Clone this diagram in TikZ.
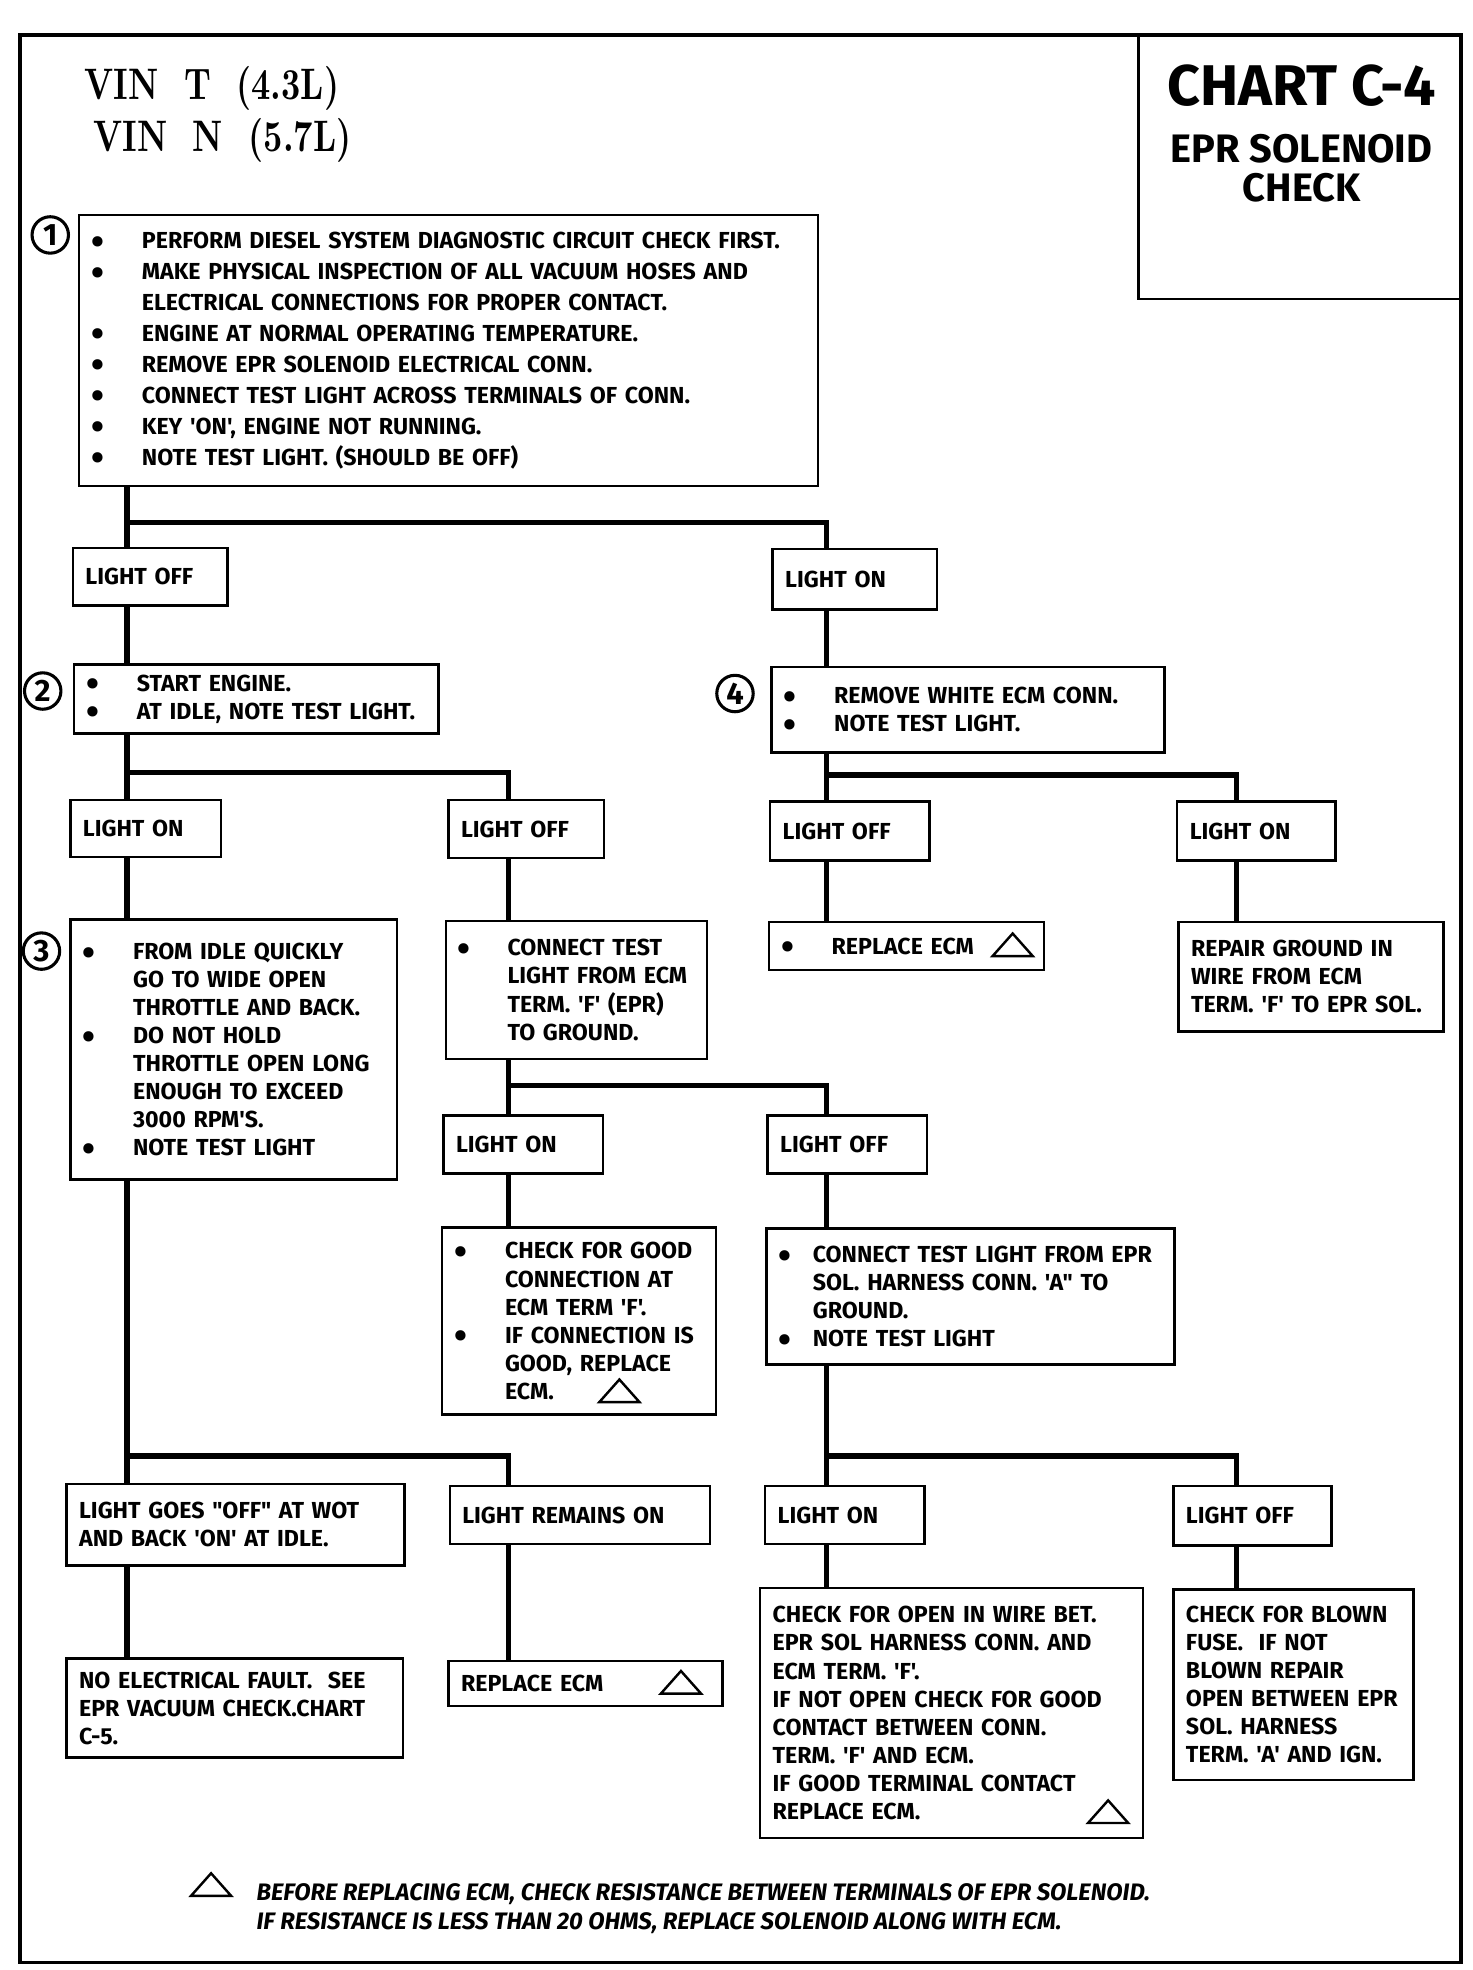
\documentclass[tikz,border=0pt]{standalone}
\usepackage{fontspec}
\newfontfamily\chartfont{Fira Sans}
\newfontfamily\vinfont[FakeStretch=0.76]{lmroman10-bold.otf}
\newcommand{\bul}[1][0.8cm]{\makebox[#1][l]{\raisebox{-0.45ex}[0pt][0pt]{\scalebox{1.6}{\textbullet}}}}
\newcommand{\ind}[1][0.8cm]{\hspace*{#1}}
\tikzset{
  box/.style={draw, line width=1.1pt, anchor=north west, inner xsep=0.2cm, inner ysep=0pt, align=left,
    font=\chartfont\bfseries\fontsize{10.5}{12.7}\selectfont},
  link/.style={line width=2.4pt},
  num/.style={circle, draw, line width=1.4pt, minimum size=0.58cm, inner sep=0pt,
    font=\chartfont\bfseries\fontsize{14}{14}\selectfont},
  warn/.pic={\draw[line width=1.1pt, line join=miter] (-16,9) -- (16,9) -- (0,-9) -- cycle;}
}
\begin{document}
\begin{tikzpicture}[x=0.02cm, y=-0.02cm]
\useasboundingbox (0,0) rectangle (1172,1568);
% frame and title
\draw[line width=1.7pt] (16,28) rectangle (1163,1562);
\draw[line width=1.1pt] (906,28) -- (906,238) -- (1163,238);
\node[font=\chartfont\bfseries\fontsize{26}{30}\selectfont] (chart) at (1036,68) {CHART C-4};
\node[align=center, font=\chartfont\bfseries\fontsize{18}{18}\selectfont] (subj) at (1036,134) {EPR SOLENOID\\CHECK};
\node[anchor=west, font=\vinfont\fontsize{20}{24}\selectfont] (vint) at (61,70) {VIN\ \ T\ \ (4.3L)};
\node[anchor=west, font=\vinfont\fontsize{20}{24}\selectfont] (vinn) at (68,112) {VIN\ \ N\ \ (5.7L)};

% step boxes
\node[box, minimum width=11.76cm, minimum height=4.32cm, text width=11.36cm,
  font=\chartfont\bfseries\fontsize{10.5}{14}\selectfont] (b1) at (62,170) {%
  \bul PERFORM DIESEL SYSTEM DIAGNOSTIC CIRCUIT CHECK FIRST.\\
  \bul MAKE PHYSICAL INSPECTION OF ALL VACUUM HOSES AND\\
  \ind ELECTRICAL CONNECTIONS FOR PROPER CONTACT.\\
  \bul ENGINE AT NORMAL OPERATING TEMPERATURE.\\
  \bul REMOVE EPR SOLENOID ELECTRICAL CONN.\\
  \bul CONNECT TEST LIGHT ACROSS TERMINALS OF CONN.\\
  \bul KEY 'ON', ENGINE NOT RUNNING.\\
  \bul NOTE TEST LIGHT. (SHOULD BE OFF)};
\node[num] (n1) at (40,187) {1};

\node[box, minimum width=2.46cm, minimum height=0.92cm, text width=2.06cm] (loff1) at (57,435) {LIGHT OFF};
\node[box, minimum width=2.62cm, minimum height=0.96cm, text width=2.22cm] (lon1) at (614,436) {LIGHT ON};

\node[box, minimum width=5.8cm, minimum height=1.1cm, text width=5.4cm] (b2) at (58,528) {%
  \bul START ENGINE.\\
  \bul AT IDLE, NOTE TEST LIGHT.};
\node[num] (n2) at (34,550) {2};
\node[box, minimum width=6.26cm, minimum height=1.36cm, text width=5.86cm] (b4) at (613,530) {%
  \bul REMOVE WHITE ECM CONN.\\
  \bul NOTE TEST LIGHT.};
\node[num] (n4) at (585,552) {4};

\node[box, minimum width=2.4cm, minimum height=0.9cm, text width=2cm] (lon2) at (55,636) {LIGHT ON};
\node[box, minimum width=2.48cm, minimum height=0.92cm, text width=2.08cm] (loff2) at (356,636) {LIGHT OFF};
\node[box, minimum width=2.54cm, minimum height=0.94cm, text width=2.14cm] (loff3) at (612,637) {LIGHT OFF};
\node[box, minimum width=2.52cm, minimum height=0.94cm, text width=2.12cm] (lon3) at (936,637) {LIGHT ON};

\node[box, minimum width=5.2cm, minimum height=4.14cm, text width=4.8cm] (b3) at (55,731) {%
  \bul FROM IDLE QUICKLY\\
  \ind GO TO WIDE OPEN\\
  \ind THROTTLE AND BACK.\\
  \bul DO NOT HOLD\\
  \ind THROTTLE OPEN LONG\\
  \ind ENOUGH TO EXCEED\\
  \ind 3000 RPM'S.\\
  \bul NOTE TEST LIGHT};
\node[num] (n3) at (33,757) {3};
\node[box, minimum width=4.16cm, minimum height=2.2cm, text width=3.8cm, inner xsep=0.18cm] (b5) at (354,732) {%
  \bul CONNECT TEST\\
  \ind LIGHT FROM ECM\\
  \ind TERM. 'F' (EPR)\\
  \ind TO GROUND.};
\node[box, minimum width=4.38cm, minimum height=0.76cm, text width=3.98cm] (b6) at (611,733) {%
  \bul REPLACE ECM};
\pic at (806,752) {warn};
\node[box, minimum width=4.22cm, minimum height=1.74cm, text width=3.82cm] (b7) at (937,733) {%
  REPAIR GROUND IN\\
  WIRE FROM ECM\\
  TERM. 'F' TO EPR SOL.};

\node[box, minimum width=2.54cm, minimum height=0.92cm, text width=2.14cm] (lon4) at (352,887) {LIGHT ON};
\node[box, minimum width=2.54cm, minimum height=0.92cm, text width=2.14cm] (loff4) at (610,887) {LIGHT OFF};
\node[box, minimum width=4.36cm, minimum height=2.98cm, text width=3.96cm] (b8) at (351,976) {%
  \bul CHECK FOR GOOD\\
  \ind CONNECTION AT\\
  \ind ECM TERM 'F'.\\
  \bul IF CONNECTION IS\\
  \ind GOOD, REPLACE\\
  \ind ECM.};
\pic at (493,1107) {warn};
\node[box, minimum width=6.5cm, minimum height=2.16cm, text width=6.1cm] (b9) at (609,977) {%
  \bul[0.54cm]CONNECT TEST LIGHT FROM EPR\\
  \ind[0.54cm]SOL. HARNESS CONN. 'A" TO\\
  \ind[0.54cm]GROUND.\\
  \bul[0.54cm]NOTE TEST LIGHT};

\node[box, minimum width=5.38cm, minimum height=1.3cm, text width=4.98cm] (lgoes) at (52,1180) {%
  LIGHT GOES "OFF" AT WOT\\
  AND BACK 'ON' AT IDLE.};
\node[box, minimum width=4.14cm, minimum height=0.92cm, text width=3.74cm] (lrem) at (357,1182) {LIGHT REMAINS ON};
\node[box, minimum width=2.54cm, minimum height=0.92cm, text width=2.14cm] (lon5) at (608,1182) {LIGHT ON};
\node[box, minimum width=2.52cm, minimum height=0.94cm, text width=2.12cm] (loff5) at (933,1182) {LIGHT OFF};

\node[box, minimum width=5.36cm, minimum height=1.58cm, text width=4.96cm] (b10) at (52,1319) {%
  NO ELECTRICAL FAULT.\ \ SEE\\
  EPR VACUUM CHECK.CHART\\
  C-5.};
\node[box, minimum width=4.36cm, minimum height=0.72cm, text width=3.96cm] (b11) at (356,1321) {REPLACE ECM};
\pic at (542,1339) {warn};
\node[box, minimum width=6.1cm, minimum height=3.98cm, text width=5.7cm] (b12) at (604,1263) {%
  CHECK FOR OPEN IN WIRE BET.\\
  EPR SOL HARNESS CONN. AND\\
  ECM TERM. 'F'.\\
  IF NOT OPEN CHECK FOR GOOD\\
  CONTACT BETWEEN CONN.\\
  TERM. 'F' AND ECM.\\
  IF GOOD TERMINAL CONTACT\\
  REPLACE ECM.};
\pic at (882,1442) {warn};
\node[box, minimum width=3.82cm, minimum height=3.04cm, text width=3.42cm] (b13) at (933,1264) {%
  CHECK FOR BLOWN\\
  FUSE.\ \ IF NOT\\
  BLOWN REPAIR\\
  OPEN BETWEEN EPR\\
  SOL. HARNESS\\
  TERM. 'A' AND IGN.};

% connectors
\coordinate (c1) at (101,0);
\coordinate (c2) at (405,0);
\coordinate (c3) at (658,0);
\coordinate (c4) at (984,0);
\foreach \a/\b/\c in {b1/loff1/c1, loff1/b2/c1, lon1/b4/c3, b2/lon2/c1, b4/loff3/c3,
    lon2/b3/c1, loff2/b5/c2, loff3/b6/c3, lon3/b7/c4, b5/lon4/c2, lon4/b8/c2, loff4/b9/c3,
    b3/lgoes/c1, b9/lon5/c3, lgoes/b10/c1, lrem/b11/c2, lon5/b12/c3, loff5/b13/c4}
  \draw[link] (\a.south -| \c) -- (\b.north -| \c);
\draw[link] (b1.south -| c1) ++(0,28) -| (lon1.north -| c3);
\draw[link] (b2.south -| c1) ++(0,30) -| (loff2.north -| c2);
\draw[link] (b4.south -| c3) ++(0,17) -| (lon3.north -| c4);
\draw[link] (b5.south -| c2) ++(0,20) -| (loff4.north -| c3);
\draw[link] (b3.south -| c1) ++(0,219) -| (lrem.north -| c2);
\draw[link] (b9.south -| c3) ++(0,72) -| (loff5.north -| c4);

% footnote
\pic at (168,1500) {warn};
\node[anchor=west, align=left, font=\chartfont\bfseries\itshape\fontsize{10.8}{13}\selectfont] (note) at (198,1519) {%
  BEFORE REPLACING ECM, CHECK RESISTANCE BETWEEN TERMINALS OF EPR SOLENOID.\\
  IF RESISTANCE IS LESS THAN 20 OHMS, REPLACE SOLENOID ALONG WITH ECM.};
\end{tikzpicture}
\end{document}
